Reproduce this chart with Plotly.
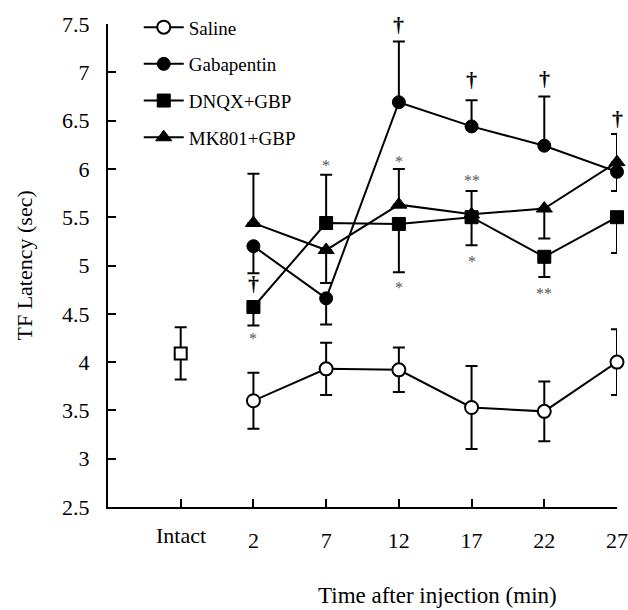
import plotly.graph_objects as go

# ---- data ----
categories = ["", "2", "7", "12", "17", "22", "27"]
intact_label = "Intact"
xpos = [1, 2, 3, 4, 5, 6]          # positions for time points (Intact at 0)

intact_mean = [4.09]
intact_err = [0.27]

saline_mean = [3.60, 3.93, 3.92, 3.53, 3.49, 4.00]
saline_err = [0.29, 0.27, 0.23, 0.43, 0.31, 0.34]

gaba_mean = [5.20, 4.66, 6.69, 6.44, 6.24, 5.97]
gaba_err_plus = [0, 0, 0.63, 0.27, 0.51, 0.39]
gaba_err_minus = [0.28, 0.27, 0, 0, 0, 0]

dnqx_mean = [4.57, 5.44, 5.43, 5.50, 5.09, 5.50]
dnqx_err_plus = [0, 0.50, 0, 0, 0, 0]
dnqx_err_minus = [0.19, 0, 0.50, 0.29, 0.21, 0.37]

mk_mean = [5.44, 5.16, 5.63, 5.53, 5.59, 6.07]
mk_err_plus = [0.51, 0, 0.37, 0.24, 0, 0]
mk_err_minus = [0, 0.34, 0, 0, 0.31, 0.30]

# significance marks: (x position, y value, text)
dagger_x = [1, 3, 4, 5, 6]
dagger_y = [4.81, 7.49, 6.93, 6.94, 6.52]
star_x = [1, 2, 3, 3, 4, 4, 5]
star_y = [4.24, 6.04, 6.08, 4.77, 5.88, 5.04, 4.71]
star_text = ["*", "*", "*", "*", "**", "*", "**"]

FONT = "Liberation Serif, Times New Roman, serif"
BLACK = "#000000"

fig = go.Figure()

def err(plus, minus=None):
    d = dict(type="data", array=plus, visible=True, color=BLACK,
             thickness=2, width=6)
    if minus is not None:
        d["symmetric"] = False
        d["arrayminus"] = minus
    return d

fig.add_trace(go.Scatter(
    x=[0], y=intact_mean, mode="markers", showlegend=False,
    marker=dict(symbol="square", size=12, color="white",
                line=dict(color=BLACK, width=2)),
    error_y=err(intact_err), cliponaxis=False))

fig.add_trace(go.Scatter(
    x=xpos, y=saline_mean, name="Saline", mode="lines+markers",
    legendgroup="a",
    line=dict(color=BLACK, width=2),
    marker=dict(symbol="circle", size=13, color="white",
                line=dict(color=BLACK, width=2)),
    error_y=err(saline_err), cliponaxis=False))

fig.add_trace(go.Scatter(
    x=xpos, y=gaba_mean, name="Gabapentin", mode="lines+markers",
    legendgroup="b",
    line=dict(color=BLACK, width=2),
    marker=dict(symbol="circle", size=13, color=BLACK,
                line=dict(color=BLACK, width=1)),
    error_y=err(gaba_err_plus, gaba_err_minus), cliponaxis=False))

fig.add_trace(go.Scatter(
    x=xpos, y=dnqx_mean, name="DNQX+GBP", mode="lines+markers",
    legendgroup="c",
    line=dict(color=BLACK, width=2),
    marker=dict(symbol="square", size=13, color=BLACK,
                line=dict(color=BLACK, width=1)),
    error_y=err(dnqx_err_plus, dnqx_err_minus), cliponaxis=False))

fig.add_trace(go.Scatter(
    x=xpos, y=mk_mean, name="MK801+GBP", mode="lines+markers",
    legendgroup="d",
    line=dict(color=BLACK, width=2),
    marker=dict(symbol="triangle-up", size=14, color=BLACK,
                line=dict(color=BLACK, width=1)),
    error_y=err(mk_err_plus, mk_err_minus), cliponaxis=False))

annotations = []
for xv, yv in zip(dagger_x, dagger_y):
    annotations.append(dict(x=xv, y=yv, xref="x", yref="y", text="<b>†</b>",
                            showarrow=False, font=dict(family=FONT, size=22, color=BLACK)))
for xv, yv, t in zip(star_x, star_y, star_text):
    annotations.append(dict(x=xv, y=yv, xref="x", yref="y", text=t,
                            showarrow=False, font=dict(family=FONT, size=16, color="#555555")))

annotations.append(dict(x=0, y=0, xref="x", yref="paper", yanchor="top",
                        yshift=-14, text=intact_label, showarrow=False,
                        font=dict(family=FONT, size=22, color=BLACK)))
annotations.append(dict(x=0.648, y=-0.184, xref="paper", yref="paper",
                        xanchor="center", yanchor="middle",
                        text="Time after injection (min)", showarrow=False,
                        font=dict(family=FONT, size=23, color=BLACK)))
annotations.append(dict(x=-0.165, y=0.5, xref="paper", yref="paper",
                        xanchor="center", yanchor="middle",
                        text="TF Latency (sec)", textangle=-90, showarrow=False,
                        font=dict(family=FONT, size=22, color=BLACK)))

yticks = [2.5, 3, 3.5, 4, 4.5, 5, 5.5, 6, 6.5, 7, 7.5]
ytext = ["2.5", "3", "3.5", "4", "4.5", "5", "5.5", "6", "6.5", "7", "7.5"]

fig.update_layout(
    width=628, height=610,
    margin=dict(l=108, r=11, t=24, b=103, autoexpand=False),
    paper_bgcolor="white", plot_bgcolor="white",
    font=dict(family=FONT, size=22, color=BLACK),
    xaxis=dict(range=[-1, 6], tickmode="array", tickvals=list(range(7)),
               ticktext=categories, showgrid=False, zeroline=False,
               showline=True, linecolor=BLACK, linewidth=2,
               ticks="inside", ticklen=8, tickwidth=2, tickcolor=BLACK,
               ticklabelstandoff=13,
               tickfont=dict(family=FONT, size=22, color=BLACK)),
    yaxis=dict(range=[2.5, 7.5], tickmode="array", tickvals=yticks,
               ticktext=ytext, showgrid=False, zeroline=False,
               showline=True, linecolor=BLACK, linewidth=2,
               ticks="inside", ticklen=8, tickwidth=2, tickcolor=BLACK,
               ticklabelstandoff=12,
               tickfont=dict(family=FONT, size=22, color=BLACK)),
    legend=dict(x=0.0604, y=1.0325, xanchor="left", yanchor="top",
                bgcolor="rgba(0,0,0,0)", traceorder="grouped",
                tracegroupgap=9, itemwidth=40,
                font=dict(family=FONT, size=19, color=BLACK)),
    annotations=annotations,
    showlegend=True,
)

fig.write_html("out.html")
